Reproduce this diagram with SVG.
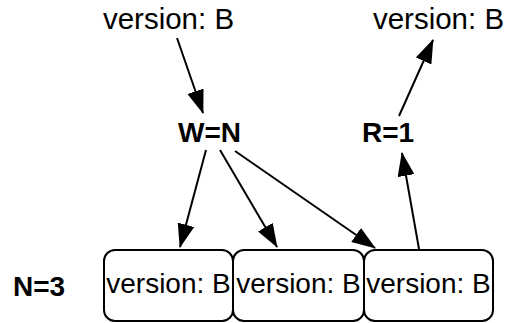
<svg xmlns="http://www.w3.org/2000/svg" width="509" height="323" viewBox="0 0 509 323">
<defs>
<style>
.t{font-family:"Liberation Sans",Arial,sans-serif;font-size:28px;fill:#000;text-anchor:middle}
.top{font-size:29.5px}
.b{font-weight:bold}
.box{fill:#fff;stroke:#000;stroke-width:2}
.c{stroke:#000;stroke-width:2;fill:none}
</style>
<marker id="ah" viewBox="0 0 24 17" refX="23" refY="8.5" markerWidth="24" markerHeight="17" markerUnits="userSpaceOnUse" orient="auto">
<path d="M0,0 L24,8.5 L0,17 z" fill="#000"/>
</marker>
</defs>
<rect width="509" height="323" fill="#fff"/>
<g id="top-left"><text class="t top" x="168.5" y="29">version: B</text></g>
<g id="top-right"><text class="t top" x="438.5" y="29">version: B</text></g>
<g id="w"><text class="t b" x="209.5" y="142">W=N</text></g>
<g id="r"><text class="t b" x="388" y="142">R=1</text></g>
<g id="n"><text class="t b" x="39" y="296">N=3</text></g>
<g id="box1"><rect class="box" x="104" y="250" width="129" height="71" rx="11"/><text class="t" x="168.5" y="293">version: B</text></g>
<g id="box2"><rect class="box" x="233" y="250" width="131" height="71" rx="11"/><text class="t" x="298.5" y="293">version: B</text></g>
<g id="box3"><rect class="box" x="364" y="250" width="129" height="71" rx="11"/><text class="t" x="428.5" y="293">version: B</text></g>
<g id="connectors">
<line class="c" x1="177" y1="38" x2="203" y2="113" marker-end="url(#ah)"/>
<line class="c" x1="206" y1="150" x2="180" y2="247" marker-end="url(#ah)"/>
<line class="c" x1="220" y1="150" x2="277" y2="247" marker-end="url(#ah)"/>
<line class="c" x1="235" y1="151" x2="375" y2="248" marker-end="url(#ah)"/>
<line class="c" x1="419" y1="249" x2="402" y2="153" marker-end="url(#ah)"/>
<line class="c" x1="399" y1="116" x2="433" y2="40" marker-end="url(#ah)"/>
</g>
</svg>
